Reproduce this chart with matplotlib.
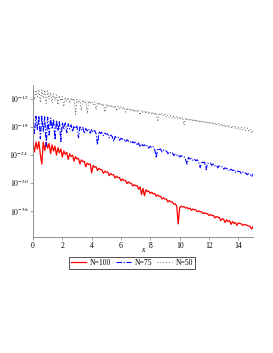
import numpy as np
import matplotlib
matplotlib.use('Agg')
import matplotlib.pyplot as plt

plt.rcParams['font.family'] = ['Liberation Serif', 'DejaVu Serif']
plt.rcParams['mathtext.fontset'] = 'stix'

# sample points along x (step 0.1 from 0 to 15)
x = np.round(np.arange(0, 15.05, 0.1), 1)

# log10 of the error for each N
n100 = [-21.7, -23.4, -21.3, -22.8, -21.2, -24.0, -26.0, -21.3, -23.1, -21.4,
        -22.6, -21.6, -23.8, -21.9, -23.2, -22.2, -24.1, -22.5, -23.6, -22.8,
        -24.5, -23.2, -23.9, -23.5, -25.0, -23.8, -24.4, -24.1, -25.4, -24.4,
        -24.9, -24.8, -26.0, -25.1, -25.5, -25.4, -26.6, -25.8, -26.1, -26.0,
        -27.9, -26.3, -26.7, -26.6, -27.4, -26.9, -27.2, -27.2, -28.0, -27.5,
        -27.8, -27.7, -28.5, -28.0, -28.3, -28.3, -29.0, -28.6, -28.9, -28.9,
        -29.6, -29.2, -29.5, -29.5, -30.2, -29.8, -30.1, -30.1, -30.7, -30.4,
        -30.7, -30.6, -31.4, -30.9, -32.5, -31.2, -32.8, -31.5, -31.9, -31.8,
        -32.3, -32.0, -32.4, -32.3, -32.9, -32.6, -32.9, -32.9, -33.5, -33.2,
        -33.5, -33.5, -34.1, -33.8, -34.1, -34.1, -34.6, -34.5, -35.0, -38.8,
        -35.3, -35.0, -35.2, -35.1, -35.4, -35.3, -35.6, -35.4, -35.9, -35.6,
        -35.8, -35.8, -36.2, -36.0, -36.2, -36.2, -36.6, -36.4, -36.6, -36.6,
        -37.0, -36.8, -37.0, -37.0, -37.5, -37.2, -37.4, -37.4, -38.1, -37.7,
        -37.8, -38.5, -37.9, -38.3, -38.1, -38.9, -38.3, -38.7, -38.5, -39.1,
        -38.6, -38.7, -38.8, -39.1, -38.9, -39.0, -39.1, -39.3, -39.3, -39.9,
        -39.4]

n75 = [-16.4, -19.5, -15.8, -18.7, -15.7, -20.6, -15.8, -19.0, -15.9, -22.2,
       -16.0, -19.8, -16.2, -18.5, -16.4, -20.8, -16.6, -18.9, -16.8, -21.2,
       -17.1, -18.6, -17.2, -19.3, -17.4, -18.5, -17.6, -19.1, -17.8, -18.4,
       -17.9, -20.4, -18.1, -18.7, -18.2, -19.5, -18.4, -18.9, -18.5, -19.4,
       -18.6, -19.2, -18.8, -19.5, -21.9, -19.0, -19.5, -19.2, -19.9, -19.4,
       -19.6, -19.6, -20.4, -19.8, -20.1, -21.2, -20.1, -20.4, -20.3, -20.9,
       -20.5, -20.7, -20.6, -21.3, -20.8, -21.1, -21.0, -21.6, -21.2, -21.5,
       -21.3, -22.0, -21.5, -22.4, -21.7, -22.1, -21.9, -22.3, -22.0, -22.6,
       -22.2, -22.5, -22.3, -22.9, -24.7, -22.7, -22.9, -22.8, -23.4, -23.0,
       -23.2, -23.2, -23.8, -23.4, -23.7, -23.6, -24.2, -23.8, -24.1, -24.0,
       -24.5, -24.2, -24.4, -24.4, -25.0, -26.0, -24.6, -24.9, -24.8, -25.2,
       -24.9, -25.3, -25.1, -25.6, -26.8, -25.4, -25.7, -25.6, -27.2, -25.8,
       -25.9, -25.8, -26.3, -26.0, -26.4, -26.2, -26.8, -26.4, -26.6, -26.6,
       -27.1, -26.8, -27.0, -27.0, -27.5, -27.1, -27.4, -27.3, -27.8, -27.4,
       -27.6, -27.6, -28.0, -27.7, -28.0, -27.9, -28.3, -28.0, -28.2, -28.7,
       -28.1]

n50 = [-10.7, -12.2, -10.2, -11.6, -10.1, -12.8, -10.2, -11.9, -10.2, -13.0,
       -10.4, -12.1, -10.7, -12.9, -11.0, -12.4, -11.2, -13.3, -11.4, -12.5,
       -11.6, -13.7, -11.7, -12.6, -11.8, -13.0, -11.9, -12.5, -12.0, -15.4,
       -12.1, -12.9, -12.2, -14.6, -12.3, -13.0, -12.4, -15.2, -12.5, -13.1,
       -12.6, -13.3, -12.7, -14.4, -12.8, -13.4, -12.9, -13.6, -13.1, -14.9,
       -13.2, -13.8, -13.3, -13.9, -13.4, -14.1, -13.5, -14.6, -13.6, -14.2,
       -13.7, -14.3, -13.8, -14.9, -14.0, -14.5, -14.1, -14.7, -14.2, -14.9,
       -14.3, -14.9, -14.4, -15.5, -14.5, -15.1, -14.6, -15.2, -14.7, -15.3,
       -14.8, -15.4, -14.9, -15.5, -15.0, -16.9, -15.1, -15.6, -15.2, -15.8,
       -15.4, -16.0, -15.5, -16.1, -15.6, -16.2, -15.7, -16.3, -15.8, -16.4,
       -15.9, -16.5, -16.0, -17.6, -16.1, -16.7, -16.2, -16.8, -16.3, -16.9,
       -16.4, -17.0, -16.5, -17.1, -16.6, -17.2, -16.7, -17.3, -16.8, -17.4,
       -16.9, -17.5, -17.0, -17.6, -17.1, -17.7, -17.2, -17.8, -17.4, -18.0,
       -17.5, -18.1, -17.6, -18.2, -17.7, -18.3, -17.8, -18.4, -17.9, -18.5,
       -18.0, -18.6, -18.1, -18.7, -18.2, -18.8, -18.3, -18.9, -18.5, -19.4,
       -18.6]

ytick_exp = [-36, -30, -24, -18, -12]
xticks = [0, 2, 4, 6, 8, 10, 12, 14]

fig = plt.figure(figsize=(2.73, 3.53), dpi=100)
ax = fig.add_axes([33/273, 1 - 237/353, 220/273, 152/353])

ax.plot(x, 10.0 ** np.array(n100), color='red', lw=0.9, label='N=100')
ax.plot(x, 10.0 ** np.array(n75), color='blue', lw=0.8, ls=(0, (5, 1.5, 1, 1.5)), label='N=75')
ax.plot(x, 10.0 ** np.array(n50), color='#333333', lw=0.6, ls=(0, (1, 2.5)), label='N=50')

ax.set_yscale('log')
ax.set_xlim(0, 15)
ax.set_ylim(10.0 ** -41.6, 10.0 ** -9.1)
ax.set_yticks([10.0 ** e for e in ytick_exp])
ax.set_yticklabels([r'$10^{%d}$' % e for e in ytick_exp])
ax.minorticks_off()
ax.set_xticks(xticks)
ax.set_xticklabels([str(t) for t in xticks])
ax.tick_params(labelsize=5.5, length=2, width=0.5, pad=1.5, color='#808080')

for s in ['top', 'right']:
    ax.spines[s].set_visible(False)
for s in ['left', 'bottom']:
    ax.spines[s].set_color('#808080')
    ax.spines[s].set_linewidth(0.6)

fig.text(143/273, 1 - 250/353, 'x', fontsize=5.5, style='italic', ha='center', va='center')

leg = fig.legend(loc='center', bbox_to_anchor=(132/273, 1 - 263/353), ncol=3,
                 fontsize=5.5, frameon=True, fancybox=False, handlelength=2.0,
                 columnspacing=0.7, handletextpad=0.4, borderpad=0.25,
                 borderaxespad=0)
leg.get_frame().set_edgecolor('black')
leg.get_frame().set_linewidth(0.6)

fig.savefig('out.png', dpi=100)
